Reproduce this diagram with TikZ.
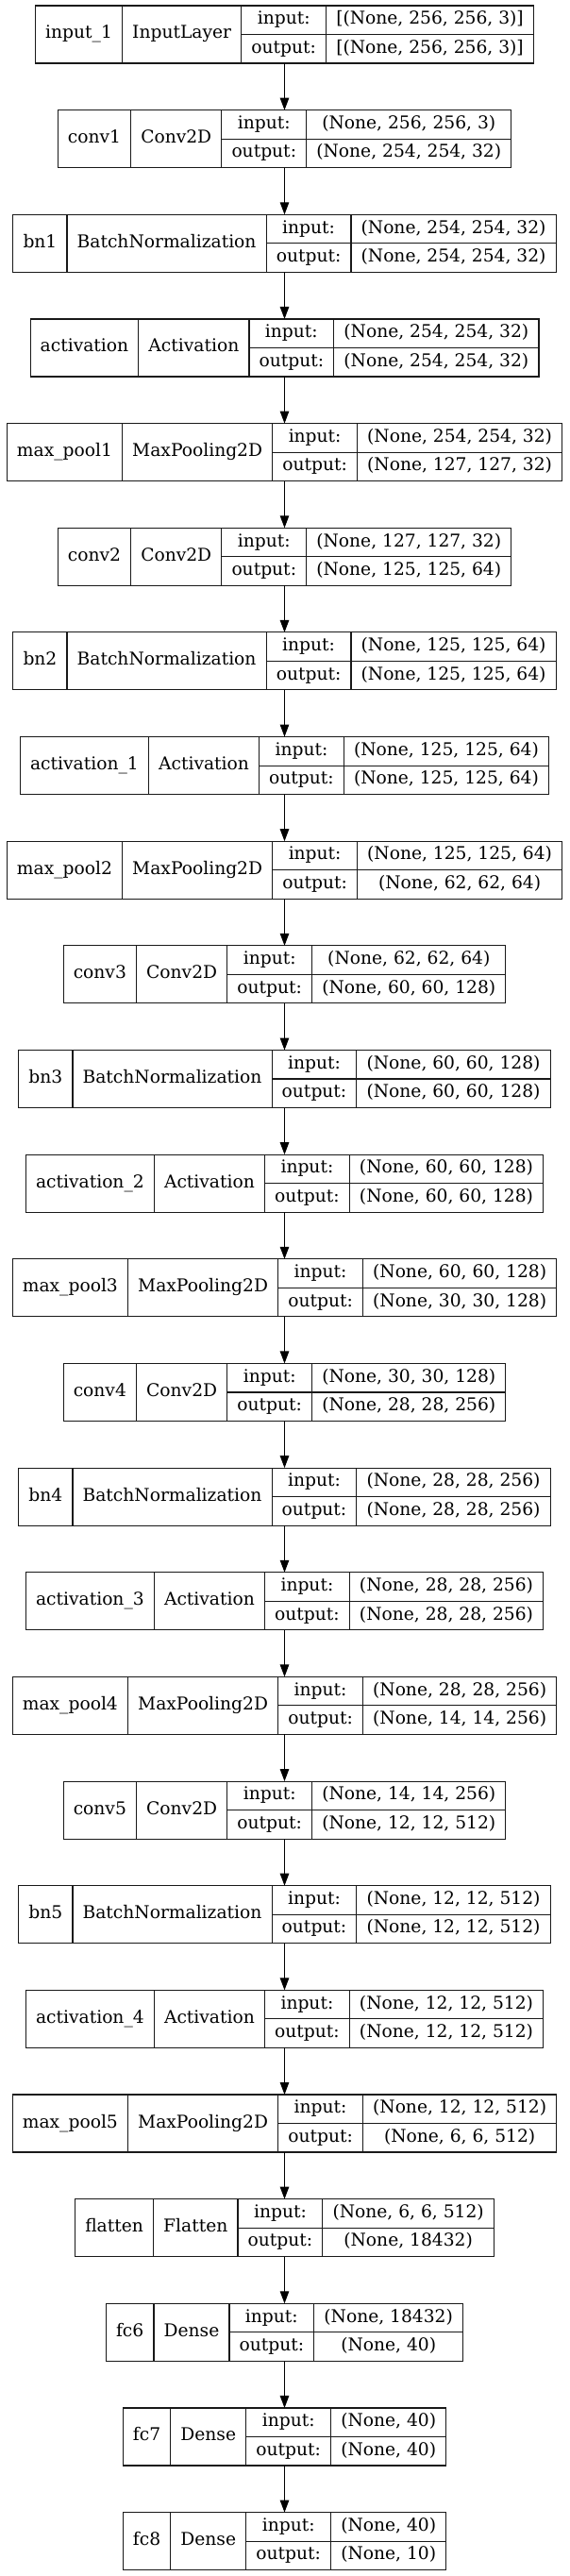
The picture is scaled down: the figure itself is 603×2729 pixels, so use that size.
\documentclass[tikz,border=0pt]{standalone}
\usepackage{fontspec}
\usepackage{tikz}
\usetikzlibrary{arrows.meta}
\usetikzlibrary{positioning}
\newfontfamily\lfam{DejaVu Serif}
\newcommand{\lf}{\lfam\fontsize{18.67}{22}\selectfont}
\newlength\wnm
\newlength\wcl
\newlength\wlab
\newlength\wsh
\newlength\wtmp
\newlength\wtot
\newcommand{\cpad}{21.3pt}
% measure the four columns of one record
\newcommand{\measure}[4]{%
  \pgfinterruptpicture
  \settowidth{\wnm}{\lf #1}\addtolength{\wnm}{\cpad}\global\wnm=\wnm
  \settowidth{\wcl}{\lf #2}\addtolength{\wcl}{\cpad}\global\wcl=\wcl
  \settowidth{\wlab}{\lf output:}\addtolength{\wlab}{\cpad}\global\wlab=\wlab
  \settowidth{\wsh}{\lf #3}\settowidth{\wtmp}{\lf #4}%
  \ifdim\wtmp>\wsh \wsh=\wtmp\fi
  \addtolength{\wsh}{\cpad}\global\wsh=\wsh
  \global\wtot=\dimexpr\wnm+\wcl+\wlab+\wsh\relax
  \endpgfinterruptpicture
}
% one layer record: id, name, class, input shape, output shape, row
\newcommand{\layer}[6]{%
  \measure{#2}{#3}{#4}{#5}%
  \node(#1) [rec, minimum width=\wtot, anchor=north] at (301.5, {-6-#6*110.65}) {};
  \node(#1-n) [cell, minimum width=\wnm, minimum height=61pt, anchor=north west] at (#1.north west) {#2};
  \node(#1-c) [cell, minimum width=\wcl, minimum height=61pt, right = 0pt of #1-n] {#3};
  \node(#1-il) [cell, minimum width=\wlab, anchor=north west] at (#1-c.north east) {input:};
  \node(#1-ol) [cell, minimum width=\wlab, below = 0pt of #1-il] {output:};
  \node(#1-iv) [cell, minimum width=\wsh, right = 0pt of #1-il] {#4};
  \node(#1-ov) [cell, minimum width=\wsh, below = 0pt of #1-iv] {#5};
  \draw[rule] (#1-n.north east) -- (#1-n.south east);
  \draw[rule] (#1-c.north east) -- (#1-c.south east);
  \draw[rule] (#1-il.north east) -- (#1-ol.south east);
  \draw[rule] (#1-il.south west) -- (#1-iv.south east);
}

\begin{document}
\begin{tikzpicture}[x=1pt, y=1pt,
    rule/.style={draw=black!90, line width=1.1pt},
    rec/.style={rule, minimum height=61pt, inner sep=0pt, outer sep=0pt},
    cell/.style={minimum height=30.5pt, inner sep=0pt, outer sep=0pt,
      font=\lf, text height=13pt, text depth=4pt},
    edge/.style={-{Triangle[length=13pt, width=9.5pt]}, line width=1.1pt}]
    \useasboundingbox (0, 0) rectangle (603, -2729);

    \layer{in1}{input\_1}{InputLayer}{[(None, 256, 256, 3)]}{[(None, 256, 256, 3)]}{0}
    \layer{conv1}{conv1}{Conv2D}{(None, 256, 256, 3)}{(None, 254, 254, 32)}{1}
    \layer{bn1}{bn1}{BatchNormalization}{(None, 254, 254, 32)}{(None, 254, 254, 32)}{2}
    \layer{act0}{activation}{Activation}{(None, 254, 254, 32)}{(None, 254, 254, 32)}{3}
    \layer{pool1}{max\_pool1}{MaxPooling2D}{(None, 254, 254, 32)}{(None, 127, 127, 32)}{4}
    \layer{conv2}{conv2}{Conv2D}{(None, 127, 127, 32)}{(None, 125, 125, 64)}{5}
    \layer{bn2}{bn2}{BatchNormalization}{(None, 125, 125, 64)}{(None, 125, 125, 64)}{6}
    \layer{act1}{activation\_1}{Activation}{(None, 125, 125, 64)}{(None, 125, 125, 64)}{7}
    \layer{pool2}{max\_pool2}{MaxPooling2D}{(None, 125, 125, 64)}{(None, 62, 62, 64)}{8}
    \layer{conv3}{conv3}{Conv2D}{(None, 62, 62, 64)}{(None, 60, 60, 128)}{9}
    \layer{bn3}{bn3}{BatchNormalization}{(None, 60, 60, 128)}{(None, 60, 60, 128)}{10}
    \layer{act2}{activation\_2}{Activation}{(None, 60, 60, 128)}{(None, 60, 60, 128)}{11}
    \layer{pool3}{max\_pool3}{MaxPooling2D}{(None, 60, 60, 128)}{(None, 30, 30, 128)}{12}
    \layer{conv4}{conv4}{Conv2D}{(None, 30, 30, 128)}{(None, 28, 28, 256)}{13}
    \layer{bn4}{bn4}{BatchNormalization}{(None, 28, 28, 256)}{(None, 28, 28, 256)}{14}
    \layer{act3}{activation\_3}{Activation}{(None, 28, 28, 256)}{(None, 28, 28, 256)}{15}
    \layer{pool4}{max\_pool4}{MaxPooling2D}{(None, 28, 28, 256)}{(None, 14, 14, 256)}{16}
    \layer{conv5}{conv5}{Conv2D}{(None, 14, 14, 256)}{(None, 12, 12, 512)}{17}
    \layer{bn5}{bn5}{BatchNormalization}{(None, 12, 12, 512)}{(None, 12, 12, 512)}{18}
    \layer{act4}{activation\_4}{Activation}{(None, 12, 12, 512)}{(None, 12, 12, 512)}{19}
    \layer{pool5}{max\_pool5}{MaxPooling2D}{(None, 12, 12, 512)}{(None, 6, 6, 512)}{20}
    \layer{flat}{flatten}{Flatten}{(None, 6, 6, 512)}{(None, 18432)}{21}
    \layer{fc6}{fc6}{Dense}{(None, 18432)}{(None, 40)}{22}
    \layer{fc7}{fc7}{Dense}{(None, 40)}{(None, 40)}{23}
    \layer{fc8}{fc8}{Dense}{(None, 40)}{(None, 10)}{24}

    \draw[edge] (in1) -- (conv1);
    \draw[edge] (conv1) -- (bn1);
    \draw[edge] (bn1) -- (act0);
    \draw[edge] (act0) -- (pool1);
    \draw[edge] (pool1) -- (conv2);
    \draw[edge] (conv2) -- (bn2);
    \draw[edge] (bn2) -- (act1);
    \draw[edge] (act1) -- (pool2);
    \draw[edge] (pool2) -- (conv3);
    \draw[edge] (conv3) -- (bn3);
    \draw[edge] (bn3) -- (act2);
    \draw[edge] (act2) -- (pool3);
    \draw[edge] (pool3) -- (conv4);
    \draw[edge] (conv4) -- (bn4);
    \draw[edge] (bn4) -- (act3);
    \draw[edge] (act3) -- (pool4);
    \draw[edge] (pool4) -- (conv5);
    \draw[edge] (conv5) -- (bn5);
    \draw[edge] (bn5) -- (act4);
    \draw[edge] (act4) -- (pool5);
    \draw[edge] (pool5) -- (flat);
    \draw[edge] (flat) -- (fc6);
    \draw[edge] (fc6) -- (fc7);
    \draw[edge] (fc7) -- (fc8);
\end{tikzpicture}
\end{document}
